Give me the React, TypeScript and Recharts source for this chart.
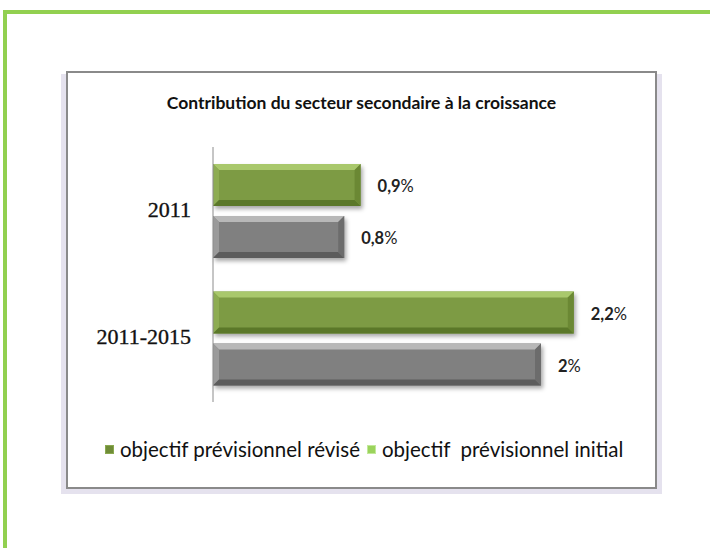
import { BarChart, Bar, XAxis, YAxis, LabelList } from "recharts";

const categories = ["2011", "2011-2015"];
const revise = [0.9, 2.2];
const initial = [0.8, 2];
const seriesNames = ["objectif prévisionnel révisé", "objectif  prévisionnel initial"];
const title = "Contribution du secteur secondaire à la croissance";

const data = categories.map((c, i) => ({ cat: c, revise: revise[i], initial: initial[i] }));

// bevel colours: face, top, left, bottom, right
const tones: Record<string, string[]> = {
  green: ["#7d9b44", "#a9c86c", "#8dac52", "#5b7829", "#6b8834"],
  gray: ["#808080", "#b8b8b8", "#9a9a9a", "#5c5c5c", "#6c6c6c"],
};

function BevelBar(props: any) {
  const { x, y, width, height, tone, index } = props;
  if (!width || width <= 0) return null;
  const c = tones[tone];
  const b = 6;
  const fid = `sh-${tone}-${index}`;
  return (
    <g>
      <defs>
        <filter id={fid} x="-10%" y="-30%" width="120%" height="160%">
          <feGaussianBlur stdDeviation="2" />
        </filter>
      </defs>
      <rect x={x + 2} y={y + 3} width={width} height={height} fill="rgba(0,0,0,0.35)" filter={`url(#${fid})`} />
      <rect x={x} y={y} width={width} height={height} fill={c[0]} />
      <polygon points={`${x},${y} ${x + width},${y} ${x + width - b},${y + b} ${x + b},${y + b}`} fill={c[1]} />
      <polygon points={`${x},${y} ${x + b},${y + b} ${x + b},${y + height - b} ${x},${y + height}`} fill={c[2]} />
      <polygon points={`${x},${y + height} ${x + b},${y + height - b} ${x + width - b},${y + height - b} ${x + width},${y + height}`} fill={c[3]} />
      <polygon points={`${x + width},${y} ${x + width},${y + height} ${x + width - b},${y + height - b} ${x + width - b},${y + b}`} fill={c[4]} />
    </g>
  );
}

function ValueLabel(props: any) {
  const { x, y, width, height, value } = props;
  const txt = String(value).replace(".", ",");
  return (
    <text x={x + width + 17} y={y + height / 2 + 7} fontFamily="Lato, sans-serif" fontSize={16.5} fill="#222">
      <tspan fontWeight="bold">{txt}</tspan>
      <tspan fontWeight="normal">%</tspan>
    </text>
  );
}

function CatTick(props: any) {
  const { y, payload } = props;
  return (
    <text
      x={191}
      y={y + 6}
      textAnchor="end"
      fontFamily="'Liberation Serif', serif"
      fontSize={22}
      fill="#111"
      stroke="#111"
      strokeWidth={0.35}
    >
      {payload.value}
    </text>
  );
}

export default function App() {
  return (
    <div style={{ position: "absolute", left: 0, top: 0, width: 710, height: 548, background: "#fff", overflow: "hidden" }}>
      {/* green frame */}
      <div style={{ position: "absolute", left: 3, top: 10, width: 720, height: 4, background: "#92d050" }} />
      <div style={{ position: "absolute", left: 3, top: 10, width: 4, height: 560, background: "#92d050" }} />
      {/* chart box */}
      <div
        style={{
          position: "absolute",
          left: 66,
          top: 71,
          width: 587,
          height: 414,
          border: "2px solid #8a8a8a",
          boxShadow: "-4px 4px 0 1px #e5e2ee, 4px 4px 0 1px #e5e2ee",
        }}
      />
      <div
        style={{
          position: "absolute",
          left: 66,
          top: 92,
          width: 591,
          textAlign: "center",
          fontFamily: "Lato, sans-serif",
          fontWeight: "bold",
          fontSize: 17.5,
          lineHeight: 1.2,
          color: "#111",
        }}
      >
        {title}
      </div>
      <div style={{ position: "absolute", left: 0, top: 0 }}>
        <BarChart
          width={710}
          height={548}
          data={data}
          layout="vertical"
          margin={{ top: 147, right: 87, bottom: 146, left: 0 }}
          barSize={42}
          barGap={10}
        >
          <XAxis type="number" domain={[0, 2.5]} hide />
          <YAxis
            type="category"
            dataKey="cat"
            width={213}
            axisLine={{ stroke: "#8c8c8c", strokeWidth: 1 }}
            tickLine={false}
            tick={<CatTick />}
          />
          <Bar dataKey="revise" isAnimationActive={false} shape={(p: any) => <BevelBar {...p} tone="green" />}>
            <LabelList dataKey="revise" content={<ValueLabel />} />
          </Bar>
          <Bar dataKey="initial" isAnimationActive={false} shape={(p: any) => <BevelBar {...p} tone="gray" />}>
            <LabelList dataKey="initial" content={<ValueLabel />} />
          </Bar>
        </BarChart>
      </div>
      {/* legend */}
      <div
        style={{
          position: "absolute",
          left: 105,
          top: 437,
          display: "flex",
          alignItems: "center",
          fontFamily: "Lato, sans-serif",
          fontSize: 20.5,
          lineHeight: 1.2,
          color: "#111",
          whiteSpace: "pre",
        }}
      >
        {seriesNames.map((n, i) => (
          <span key={n} style={{ display: "flex", alignItems: "center", marginRight: 7 }}>
            <span
              style={{
                display: "inline-block",
                flexShrink: 0,
                boxSizing: "border-box",
                width: 9,
                height: 9,
                marginRight: 6,
                background: i === 0 ? "#6f8c37" : "#9bd35c",
                border: i === 0 ? "1px solid #8aa94f" : "1px solid #c2e99a",
              }}
            />
            {n}
          </span>
        ))}
      </div>
    </div>
  );
}
